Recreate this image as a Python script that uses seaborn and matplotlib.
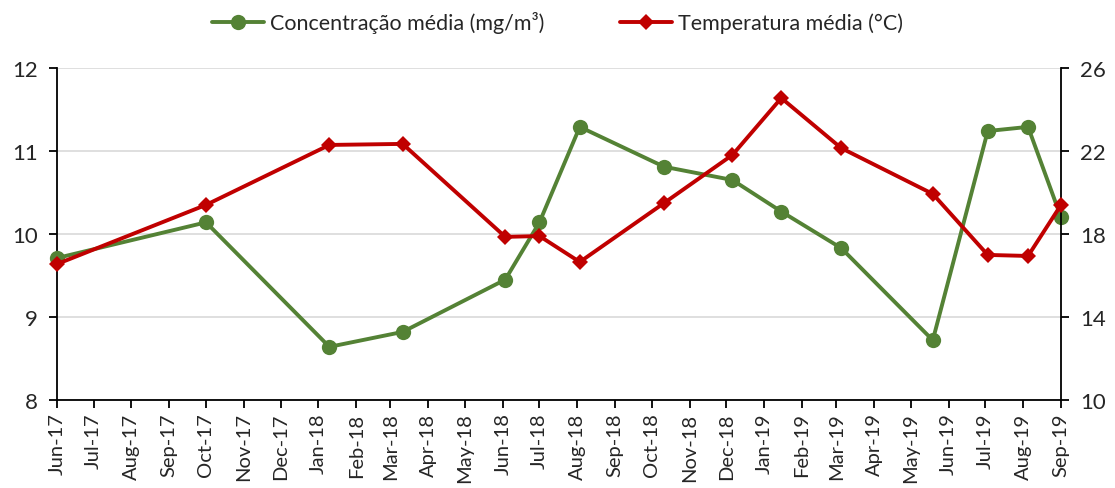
"""Concentração média vs temperatura média, Jun-17 a Sep-19 (dois eixos)."""

import matplotlib

matplotlib.use("Agg")
import matplotlib.dates as mdates
import matplotlib.pyplot as plt
import pandas as pd
import seaborn as sns

# ---- data -----------------------------------------------------------------
DATES = ["2017-06-01", "2017-10-01", "2018-01-10", "2018-03-11", "2018-06-03",
         "2018-07-01", "2018-08-03", "2018-10-11", "2018-12-06", "2019-01-15",
         "2019-03-05", "2019-05-19", "2019-07-03", "2019-08-05", "2019-09-01"]
CONC = [9.71, 10.14, 8.64, 8.82, 9.45, 10.14, 11.29, 10.81, 10.65, 10.27,
        9.83, 8.72, 11.24, 11.29, 10.20]
TEMP = [16.55, 19.40, 22.29, 22.34, 17.86, 17.90, 16.65, 19.49, 21.81, 24.55,
        22.14, 19.93, 16.99, 16.94, 19.40]
CONC_LABEL = "Concentração média (mg/m³)"
TEMP_LABEL = "Temperatura média (°C)"

GREEN = "#548235"
RED = "#C00000"

sns.set_theme(style="white")
plt.rcParams["font.family"] = ["Lato", "DejaVu Sans"]

df = pd.DataFrame({"date": pd.to_datetime(DATES), "conc": CONC, "temp": TEMP})

fig = plt.figure(figsize=(11.15, 4.89), dpi=100)
ax = fig.add_axes([0.0511, 0.18, 0.9005, 0.679])
ax2 = ax.twinx()

sns.lineplot(data=df, x="date", y="conc", ax=ax, color=GREEN, lw=2.8,
             marker="o", markersize=11, markeredgewidth=0, label=CONC_LABEL,
             legend=False, zorder=3, clip_on=False)
sns.lineplot(data=df, x="date", y="temp", ax=ax2, color=RED, lw=2.8,
             marker="D", markersize=8.5, markeredgewidth=0, label=TEMP_LABEL,
             legend=False, zorder=3, clip_on=False)

ax.set_ylim(8, 12)
ax.set_yticks([8, 9, 10, 11, 12])
ax2.set_ylim(10, 26)
ax2.set_yticks([10, 14, 18, 22, 26])
ax.set_xlim(pd.Timestamp("2017-06-01"), pd.Timestamp("2019-09-01"))
ax.xaxis.set_major_locator(mdates.MonthLocator())
ax.xaxis.set_major_formatter(mdates.DateFormatter("%b-%y"))
ax.yaxis.grid(True, color="#d9d9d9", lw=1.2)
ax.set_axisbelow(True)
ax.set_xlabel("")
ax.set_ylabel("")
ax2.set_ylabel("")

for a in (ax, ax2):
    a.spines["top"].set_visible(False)
    for s in a.spines.values():
        s.set_color("black")
        s.set_linewidth(1.3)
ax.spines["right"].set_visible(False)
ax2.spines["left"].set_visible(False)
ax2.spines["bottom"].set_visible(False)

ax.tick_params(axis="x", direction="out", length=6, width=1.3, color="black",
               bottom=True, labelsize=14.5, rotation=90, pad=3)
ax.tick_params(axis="y", direction="out", length=6, width=1.3, color="black",
               left=True, labelsize=16, pad=8)
ax2.tick_params(axis="y", direction="out", length=6, width=1.3, color="black",
                right=True, labelsize=16, pad=8)

h1, l1 = ax.get_legend_handles_labels()
h2, l2 = ax2.get_legend_handles_labels()
fig.legend(h1 + h2, l1 + l2, loc="upper center", bbox_to_anchor=(0.5, 1.015),
           ncol=2, frameon=False, fontsize=15.5, handlelength=2.4,
           columnspacing=3.5, handletextpad=0.3)

fig.savefig("out.png", dpi=100)
